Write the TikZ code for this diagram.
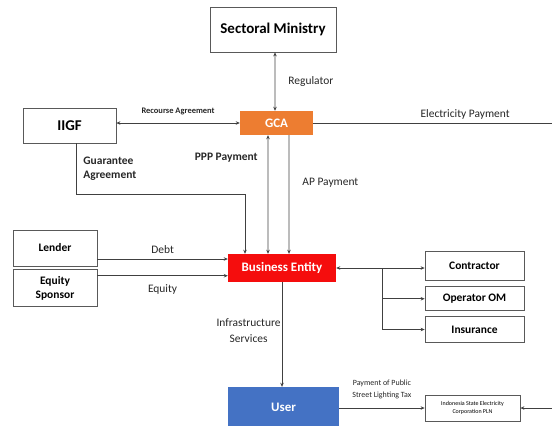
\documentclass[tikz,border=0pt]{standalone}
\usepackage{fontspec}
\setmainfont{Carlito}
\usetikzlibrary{arrows.meta, positioning}
\definecolor{gcaorange}{HTML}{ED7D31}
\definecolor{bered}{HTML}{F50D0D}
\definecolor{userblue}{HTML}{4472C4}
\definecolor{linegray}{HTML}{404040}
\tikzstyle{party} = [rectangle, draw=black!65, line width=0.75pt, fill=white, text centered, align=center, inner sep=0pt, font=\bfseries\fontsize{11.5}{14}\selectfont]
\tikzstyle{core} = [rectangle, draw=none, text=white, text centered, inner sep=0pt, font=\bfseries\fontsize{13}{15}\selectfont]
\tikzstyle{arrow} = [draw=linegray, line width=0.8pt, -{Stealth[length=4bp,width=3.5bp]}]
\tikzstyle{biarrow} = [draw=linegray, line width=0.8pt, {Stealth[length=4bp,width=3.5bp]}-{Stealth[length=4bp,width=3.5bp]}]
\tikzstyle{plainline} = [draw=linegray, line width=0.8pt]
\tikzstyle{labelnode} = [font=\fontsize{11.5}{16}\selectfont, align=center, inner sep=0pt, text=black!85]
\tikzstyle{boldlabel} = [labelnode, font=\bfseries\fontsize{11.5}{14}\selectfont]

\begin{document}
\begin{tikzpicture}[x=1bp, y=-1bp]
\useasboundingbox (0,0) rectangle (552,425);

% --- Government side ---
\node (ministry) [party, minimum width=126bp, minimum height=45bp, font=\bfseries\fontsize{15}{17}\selectfont] at (273,29.5) {Sectoral Ministry};
\node (gca) [core, fill=gcaorange, minimum width=73bp, minimum height=24bp] at (276.5,123) {GCA};
\node (iigf) [party, minimum width=93bp, minimum height=35bp, font=\bfseries\fontsize{15}{17}\selectfont] at (69.5,125.5) {IIGF};

% --- Financing ---
\node (lender) [party, minimum width=84bp, minimum height=36bp] at (55,248) {Lender};
\node (sponsor) [party, minimum width=84bp, minimum height=37bp, below=3bp of lender] {Equity\\Sponsor};

% --- Project company and subcontracts ---
\node (be) [core, fill=bered, minimum width=108bp, minimum height=28bp] at (282,268) {Business Entity};
\node (contractor) [party, minimum width=99bp, minimum height=29bp] at (474.5,265.5) {Contractor};
\node (operator) [party, minimum width=99bp, minimum height=24bp, below=6bp of contractor] {Operator OM};
\node (insurance) [party, minimum width=99bp, minimum height=26bp, below=5bp of operator] {Insurance};

% --- Users ---
\node (user) [core, fill=userblue, minimum width=111bp, minimum height=41bp] at (283.5,407.5) {User};
\node (pln) [party, minimum width=95bp, minimum height=26bp, font=\fontsize{6}{7.5}\selectfont] at (472.5,408) {Indonesia State Electricity\\Corporation PLN};

\coordinate (elecend) at (552,123);
\coordinate (split) at (382,268);
\coordinate (gridin) at (552,408);

% --- Connections ---
% GCA links
\draw [biarrow] ([xshift=2bp]ministry.south) -- node[labelnode, anchor=west, xshift=13bp] {Regulator} ([xshift=-1.5bp]gca.north);
\draw [biarrow] (gca.west -| iigf.east) -- node[boldlabel, font=\bfseries\fontsize{8.5}{10}\selectfont, yshift=12bp] {Recourse Agreement} (gca.west);
\draw [plainline] (gca.east) -- node[labelnode, xshift=32.5bp, yshift=9bp] {Electricity Payment} (elecend);

% Payments to the Business Entity
\draw [arrow] ([xshift=6.5bp]iigf.south) -- node[boldlabel, anchor=west, xshift=7bp, align=left] {Guarantee\\Agreement} ++(0,51) -| ([xshift=-37bp]be.north);
\draw [biarrow] ([xshift=-8.5bp]gca.south) -- node[boldlabel, anchor=east, pos=0.19, xshift=-10bp] {PPP Payment} ([xshift=-14bp]be.north);
\draw [arrow] ([xshift=12.5bp]gca.south) -- node[labelnode, anchor=west, pos=0.4, xshift=13bp] {AP Payment} ([xshift=7bp]be.north);

% Financing
\draw [arrow] ([yshift=-11bp]lender.east) -- node[labelnode, yshift=9bp] {Debt} ([yshift=-11bp]lender.east -| be.west);
\draw [arrow] ([yshift=12.5bp]sponsor.east) -- node[labelnode, yshift=-14bp] {Equity} ([yshift=12.5bp]sponsor.east -| be.west);

% Subcontracts
\draw [biarrow] (be.east) -- (be.east -| contractor.west);
\draw [arrow] (split) |- (operator.west);
\draw [arrow] (split) |- (insurance.west);

% Services and tax
\draw [arrow] (be.south) -- node[labelnode, anchor=east, pos=0.46, xshift=-1bp] {Infrastructure\\Services} (be.south |- user.north);
\draw [arrow] (user.east |- pln.west) -- node[labelnode, font=\fontsize{8}{12}\selectfont, yshift=19bp] {Payment of Public\\Street Lighting Tax} (pln.west);
\draw [arrow] (gridin) -- (pln.east);

\end{tikzpicture}
\end{document}
